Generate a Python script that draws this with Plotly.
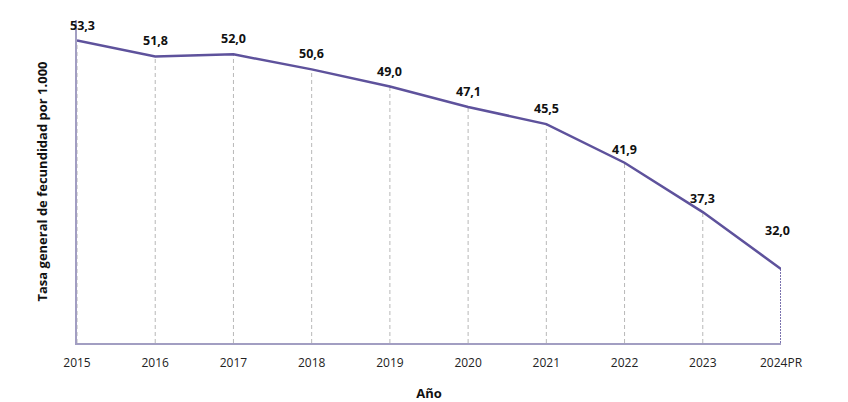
import plotly.graph_objects as go

years = ["2015", "2016", "2017", "2018", "2019", "2020", "2021", "2022", "2023", "2024PR"]
values = [53.3, 51.8, 52.0, 50.6, 49.0, 47.1, 45.5, 41.9, 37.3, 32.0]
labels = ["53,3", "51,8", "52,0", "50,6", "49,0", "47,1", "45,5", "41,9", "37,3", "32,0"]

y_min, y_max = 25.1, 55.2
label_shift = [4, 5, 5, 5, 5, 5, 5, 3, 3, 28]
label_xshift = [5, 0, 0, 0, 0, 0, 0, 0, 0, -4]

font = "'Open Sans', sans-serif"

fig = go.Figure()

# dashed drop lines from baseline to each point
dx, dy = [], []
for c, v in zip(years[:-1], values[:-1]):
    dx += [c, c, None]
    dy += [y_min, v, None]
fig.add_trace(go.Scatter(x=dx, y=dy, mode="lines",
                         line=dict(color="#B8B8B8", width=1, dash="4px,3px"),
                         hoverinfo="skip", showlegend=False))
fig.add_trace(go.Scatter(x=[years[-1], years[-1]], y=[y_min, values[-1]], mode="lines",
                         line=dict(color="#7A72AE", width=2, dash="2px,1px"),
                         hoverinfo="skip", showlegend=False))

fig.add_trace(go.Scatter(x=years, y=values, mode="lines",
                         line=dict(color="#5E529C", width=2.5),
                         showlegend=False, cliponaxis=False))

for i, (v, t, s, xs) in enumerate(zip(values, labels, label_shift, label_xshift)):
    fig.add_annotation(x=i, y=v, xref="x", yref="y", text="<b>%s</b>" % t, showarrow=False,
                       yanchor="bottom", yshift=s, xshift=xs,
                       font=dict(family=font, size=12.5, color="#111111"))

# the page body adds an 8px offset, so the figure is 8px smaller
fig.update_layout(
    width=840, height=394,
    margin=dict(l=69, r=67, t=12, b=59),
    paper_bgcolor="white", plot_bgcolor="white",
    font=dict(family=font, size=12, color="#222222"),
    xaxis=dict(type="category", range=[0, len(years) - 1], showgrid=False,
               showline=True, linecolor="#A29EC2", linewidth=2,
               ticks="", ticklabelstandoff=8, automargin=False,
               tickfont=dict(size=12, color="#222222"),
               title=dict(text="<b>Año</b>", font=dict(size=13, color="#111111"), standoff=26)),
    yaxis=dict(range=[y_min, y_max], showgrid=False, zeroline=False,
               showline=True, linecolor="#A29EC2", linewidth=2,
               showticklabels=False, ticks="", automargin=False,
               title=dict(text="<b>Tasa general de fecundidad por 1.000</b>",
                          font=dict(size=13, color="#111111"), standoff=24)),
)

fig.write_html("out.html")
